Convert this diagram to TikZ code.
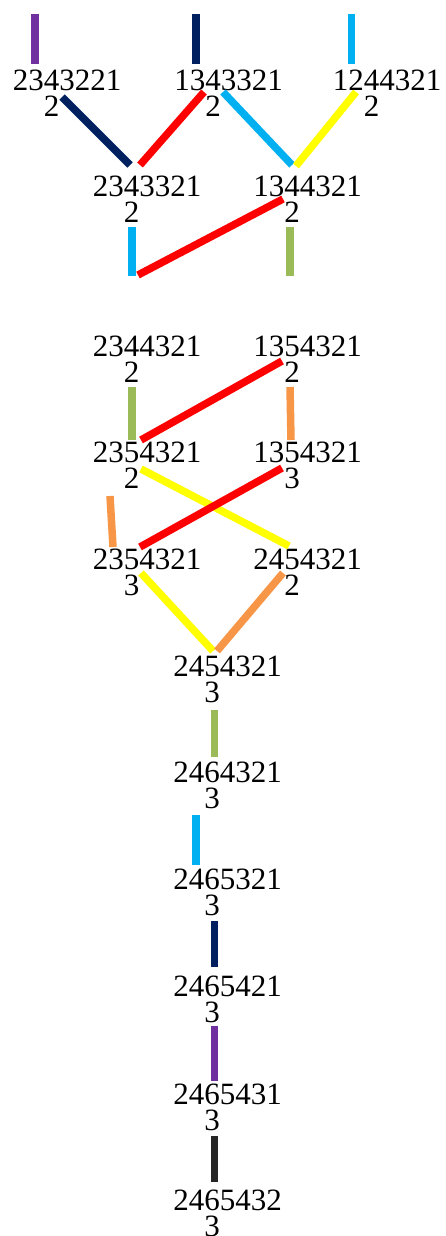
\documentclass[tikz,border=0pt]{standalone}
\usepackage{fontspec}
\setmainfont{Liberation Serif}
\usetikzlibrary{calc}
\definecolor{edgepurple}{HTML}{7030A0}
\definecolor{edgenavy}{HTML}{002060}
\definecolor{edgecyan}{HTML}{00B0F0}
\definecolor{edgered}{HTML}{FF0000}
\definecolor{edgeyellow}{HTML}{FFFF00}
\definecolor{edgegreen}{HTML}{9BBB59}
\definecolor{edgeorange}{HTML}{F79646}
\definecolor{edgedark}{HTML}{262626}
\tikzset{
  perm node/.style={anchor=north,align=center,inner sep=0pt,outer sep=0pt,font=\fontsize{31}{26}\selectfont},
  bond/.style={line width=7.5pt},
  purple bond/.style={bond,edgepurple},
  navy bond/.style={bond,edgenavy},
  cyan bond/.style={bond,edgecyan},
  red bond/.style={bond,edgered},
  yellow bond/.style={bond,edgeyellow},
  green bond/.style={bond,edgegreen},
  orange bond/.style={bond,edgeorange},
  dark bond/.style={bond,edgedark},
}
\begin{document}
\begin{tikzpicture}[x=1pt,y=-1pt]
  \useasboundingbox (0,0) rectangle (445,1236);
  \node[perm node] (p23432212) at (67,70) {2343221\\2\phantom{00}};
  \node[perm node] (p13433212) at (228.5,70) {1343321\\2\phantom{00}};
  \node[perm node] (p12443212) at (387,70) {1244321\\2\phantom{00}};
  \node[perm node] (p23433212) at (147,176) {2343321\\2\phantom{00}};
  \node[perm node] (p13443212) at (307.5,176) {1344321\\2\phantom{00}};
  \node[perm node] (p23443212) at (147,336) {2344321\\2\phantom{00}};
  \node[perm node] (p13543212) at (307.5,336) {1354321\\2\phantom{00}};
  \node[perm node] (p23543212) at (147,442) {2354321\\2\phantom{00}};
  \node[perm node] (p13543213) at (307.5,442) {1354321\\3\phantom{00}};
  \node[perm node] (p23543213) at (147,549) {2354321\\3\phantom{00}};
  \node[perm node] (p24543212) at (307.5,549) {2454321\\2\phantom{00}};
  \node[perm node] (p24543213) at (227.5,656) {2454321\\3\phantom{00}};
  \node[perm node] (p24643213) at (227.5,762) {2464321\\3\phantom{00}};
  \node[perm node] (p24653213) at (227.5,869) {2465321\\3\phantom{00}};
  \node[perm node] (p24654213) at (227.5,976) {2465421\\3\phantom{00}};
  \node[perm node] (p24654313) at (227.5,1084) {2465431\\3\phantom{00}};
  \node[perm node] (p24654323) at (227.5,1190) {2465432\\3\phantom{00}};
  % loose ends at the top
  \coordinate (up1) at (35,14);
  \coordinate (up2) at (196,14);
  \coordinate (up3) at (351.5,14);
  \draw[purple bond] (up1) -- ($(p23432212.north)+(-32,-6)$);
  \draw[navy bond] (up2) -- ($(p13433212.north)+(-32.5,-6)$);
  \draw[cyan bond] (up3) -- ($(p12443212.north)+(-35.5,-6)$);
  % first two rows
  \draw[navy bond] ($(p23432212.north)+(-5,27)$) -- ($(p23433212.north)+(-17,-11)$);
  \draw[red bond] ($(p13433212.north)+(-24.5,22)$) -- ($(p23433212.north)+(-7,-11)$);
  \draw[cyan bond] ($(p13433212.north)+(-5.5,22)$) -- ($(p13443212.north)+(-15.5,-11)$);
  \draw[yellow bond] ($(p12443212.north)+(-31,22)$) -- ($(p13443212.north)+(-11.5,-10)$);
  \draw[cyan bond] ($(p23433212.north)+(-15,51)$) -- ($(p23443212.north)+(-15,-60)$);
  \draw[green bond] ($(p13443212.north)+(-17.5,51)$) -- ($(p13543212.north)+(-17.5,-60)$);
  \draw[red bond] ($(p13443212.north)+(-24.5,23)$) -- ($(p23443212.north)+(-9,-61)$);
  % middle block
  \draw[green bond] ($(p23443212.north)+(-15,51)$) -- ($(p23543212.north)+(-15,-2)$);
  \draw[red bond] ($(p13543212.north)+(-25.5,25)$) -- ($(p23543212.north)+(-6,-2)$);
  \draw[orange bond] ($(p13543212.north)+(-17.5,51)$) -- ($(p13543213.north)+(-16.5,-2)$);
  \draw[yellow bond] ($(p23543212.north)+(-6,27)$) -- ($(p24543212.north)+(-18.5,-3)$);
  \draw[red bond] ($(p13543213.north)+(-25.5,26)$) -- ($(p23543213.north)+(-7,-2)$);
  \draw[orange bond] ($(p23543212.north)+(-37,54)$) -- ($(p23543213.north)+(-34,-2)$);
  \draw[yellow bond] ($(p23543213.north)+(-6,24)$) -- ($(p24543213.north)+(-14.5,-5)$);
  \draw[orange bond] ($(p24543212.north)+(-24.5,24)$) -- ($(p24543213.north)+(-10.5,-5)$);
  % chain
  \draw[green bond] ($(p24543213.north)+(-13,54)$) -- ($(p24643213.north)+(-13,-5)$);
  \draw[cyan bond] ($(p24643213.north)+(-31.5,53)$) -- ($(p24653213.north)+(-31.5,-4)$);
  \draw[navy bond] ($(p24653213.north)+(-13,52)$) -- ($(p24654213.north)+(-13,-9)$);
  \draw[purple bond] ($(p24654213.north)+(-13,50)$) -- ($(p24654313.north)+(-13,-3)$);
  \draw[dark bond] ($(p24654313.north)+(-13,52)$) -- ($(p24654323.north)+(-13,-8)$);
\end{tikzpicture}
\end{document}
